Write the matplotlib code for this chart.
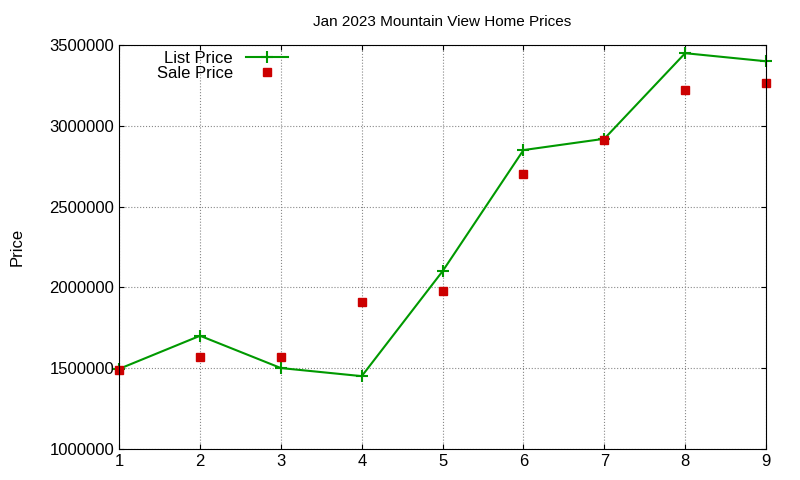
import matplotlib
matplotlib.use("Agg")
import matplotlib.pyplot as plt

months = [1, 2, 3, 4, 5, 6, 7, 8, 9]
list_price = [1495000, 1700000, 1500000, 1450000, 2100000, 2850000, 2920000, 3450000, 3400000]
sale_price = [1485000, 1570000, 1570000, 1910000, 1980000, 2700000, 2915000, 3220000, 3265000]

plt.rcParams["font.family"] = ["Liberation Sans", "DejaVu Sans"]
fig = plt.figure(figsize=(8, 4.8), dpi=100)
ax = fig.add_axes([0.149, 0.065, 0.8085, 0.841])

ax.plot(months, list_price, color="#009900", lw=1.5, marker="+", ms=8, mew=1.5,
        label="List Price", clip_on=False)
ax.plot(months, sale_price, ls="none", marker="s", color="#cc0000", ms=6,
        label="Sale Price", clip_on=False)

ax.set_xlim(1, 9)
ax.set_ylim(1000000, 3500000)
ax.set_xticks(months)
ax.set_yticks(range(1000000, 3500001, 500000))
ax.ticklabel_format(axis="y", style="plain", useOffset=False)
ax.tick_params(direction="in", top=True, right=True, labelsize=12)
ax.grid(True, ls=":", color="#888888", lw=0.8)
ax.set_title("Jan 2023 Mountain View Home Prices", fontsize=11, pad=14)
ax.set_ylabel("Price", fontsize=12, labelpad=18)

ax.legend(loc="upper left", bbox_to_anchor=(0.04, 1.015), frameon=False, markerfirst=False,
          fontsize=12, handlelength=2.5, borderaxespad=0.3, labelspacing=0.0)

fig.savefig("out.png", dpi=100)
